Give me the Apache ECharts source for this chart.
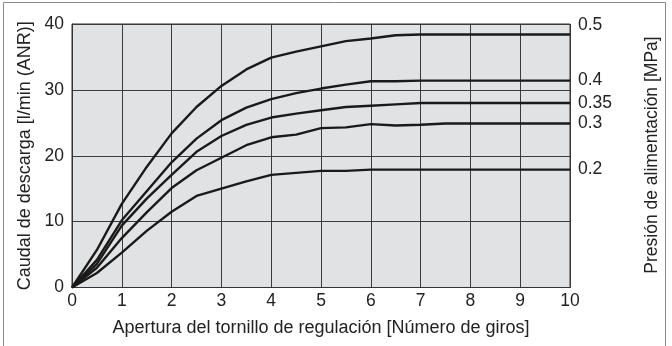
<!DOCTYPE html>
<html><head><meta charset="utf-8">
<script src="https://cdn.jsdelivr.net/npm/echarts@6/dist/echarts.min.js"></script>
<style>html,body{margin:0;padding:0;background:#fff}#c{width:672px;height:346px}</style>
</head><body><div id="c"></div>
<script>
const turns = [0,0.5,1,1.5,2,2.5,3,3.5,4,4.5,5,5.5,6,6.5,7,7.5,8,8.5,9,9.5,10];
const pressureLabels = ['0.5','0.4','0.35','0.3','0.2'];
const flow05  = [0,5.7,12.7,18.3,23.4,27.4,30.6,33.1,34.9,35.8,36.6,37.4,37.8,38.3,38.4,38.4,38.4,38.4,38.4,38.4,38.4];
const flow04  = [0,4.2,10.2,14.6,19.0,22.6,25.4,27.3,28.6,29.5,30.2,30.8,31.3,31.3,31.4,31.4,31.4,31.4,31.4,31.4,31.4];
const flow035 = [0,3.6,9.4,13.5,17.1,20.6,23.0,24.7,25.8,26.4,26.9,27.4,27.6,27.8,28.0,28.0,28.0,28.0,28.0,28.0,28.0];
const flow03  = [0,3.0,7.5,11.4,15.1,17.8,19.7,21.6,22.8,23.2,24.2,24.3,24.8,24.6,24.7,24.9,24.9,24.9,24.9,24.9,24.9];
const flow02  = [0,2.2,5.3,8.6,11.5,13.9,15.0,16.1,17.1,17.4,17.7,17.7,17.9,17.9,17.9,17.9,17.9,17.9,17.9,17.9,17.9];
const xTicks = [0,1,2,3,4,5,6,7,8,9,10];
const yTicks = [0,10,20,30,40];

const font = 'Liberation Sans, Arial, sans-serif';
const allFlows = [flow05, flow04, flow035, flow03, flow02];
const labelOffsets = [[0,-9],[0,0],[0,0],[0,0],[0,0]];
const series = allFlows.map((arr, i) => ({
  type: 'line',
  data: turns.map((t, j) => [t, arr[j]]),
  showSymbol: false,
  smooth: false,
  lineStyle: {color: '#1a1a1a', width: 2.4},
  endLabel: {show: true, formatter: pressureLabels[i], color: '#222', fontSize: 17.5, fontFamily: font, distance: 8, offset: labelOffsets[i]},
  silent: true
}));

const chart = echarts.init(document.getElementById('c'), null, {renderer: 'canvas'});
chart.setOption({
  animation: false,
  backgroundColor: '#fff',
  grid: {left: 72, right: 102, top: 24, bottom: 58.5, show: true, backgroundColor: '#e1e2e4', borderColor: '#333', borderWidth: 1},
  xAxis: {
    type: 'value', min: 0, max: 10, interval: 1,
    name: 'Apertura del tornillo de regulación [Número de giros]',
    nameLocation: 'middle', nameGap: 32,
    nameTextStyle: {fontSize: 18, color: '#222', fontFamily: font},
    axisLine: {show: true, lineStyle: {color: '#333'}},
    axisTick: {show: false},
    axisLabel: {fontSize: 17.5, color: '#222', fontFamily: font, margin: 5, formatter: v => xTicks.includes(v) ? String(v) : ''},
    splitLine: {show: true, lineStyle: {color: '#3a3a3a', width: 1}}
  },
  yAxis: {
    type: 'value', min: 0, max: 40, interval: 10,
    name: 'Caudal de descarga [l/min (ANR)]',
    nameLocation: 'middle', nameGap: 35, nameRotate: 90,
    nameTextStyle: {fontSize: 18, color: '#222', fontFamily: font},
    axisLine: {show: true, lineStyle: {color: '#333'}},
    axisTick: {show: false},
    axisLabel: {fontSize: 17.5, color: '#222', fontFamily: font, margin: 8, formatter: v => yTicks.includes(v) ? String(v) : ''},
    splitLine: {show: true, lineStyle: {color: '#3a3a3a', width: 1}}
  },
  graphic: [
    {type: 'rect', shape: {x: 3.5, y: 2.5, width: 662, height: 350}, style: {fill: 'none', stroke: '#888', lineWidth: 1}, z: -1},
    {type: 'text', x: 652, y: 155, rotation: Math.PI/2, style: {text: 'Presión de alimentación [MPa]', fontSize: 17.5, fontFamily: font, fill: '#222', align: 'center', verticalAlign: 'middle'}}
  ],
  series: series
});
</script></body></html>
